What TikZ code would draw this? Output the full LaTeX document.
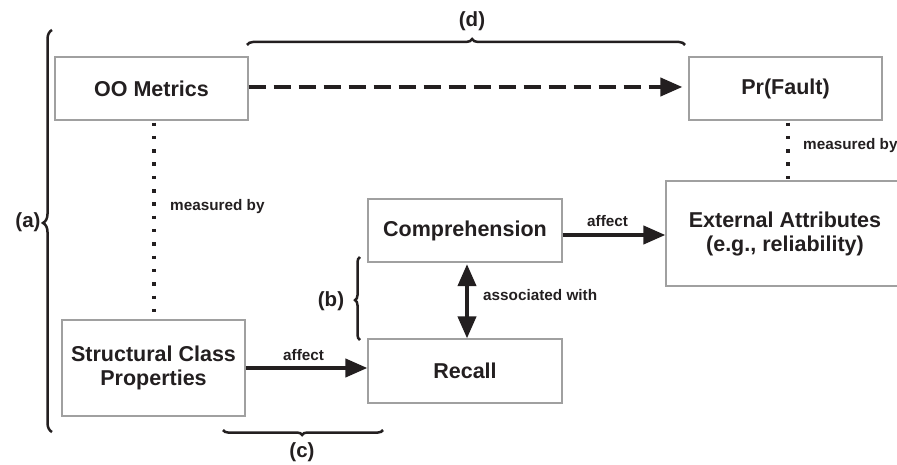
\documentclass[tikz,border=0pt]{standalone}
\usepackage{fontspec}
\setmainfont{Liberation Sans}
\usetikzlibrary{arrows.meta,decorations.pathreplacing,calc}
\definecolor{ink}{HTML}{231F20}
\definecolor{edge}{HTML}{A0A0A0}
\begin{document}
\begin{tikzpicture}[x=1pt,y=-1pt,
  box/.style={draw=edge, line width=1.2pt, fill=white, align=center, inner sep=0pt,
    font=\fontsize{21.5}{24}\selectfont\bfseries, text=ink},
  lab/.style={font=\fontsize{15.3}{18}\selectfont\bfseries, text=ink, inner sep=0pt},
  tag/.style={font=\fontsize{20.5}{24}\selectfont\bfseries, text=ink, inner sep=0pt},
  conn/.style={draw=ink, line width=4pt, -{Triangle[length=22pt,width=18pt]}},
  dconn/.style={draw=ink, line width=4pt, {Triangle[length=22pt,width=18pt]}-{Triangle[length=22pt,width=18pt]}},
  dots/.style={draw=ink, line width=3.5pt, dash pattern=on 3.5pt off 9.8pt},
  bracket/.style={draw=ink, line width=2.5pt, decorate}
]
\useasboundingbox (0,0) rectangle (897,465);

% boxes
\node[box, minimum width=193pt, minimum height=63pt] (oo) at (151.5,88.5) {OO Metrics};
\node[box, minimum width=193pt, minimum height=63pt] (pr) at (785.5,88.5) {Pr(Fault)};
\node[box, minimum width=183pt, minimum height=96pt] (sc) at (153.5,368) {Structural Class\\Properties};
\node[box, minimum width=194pt, minimum height=63pt] (co) at (465,230.5) {Comprehension};
\node[box, minimum width=194pt, minimum height=64pt] (re) at (465,371) {Recall};
\node[box, minimum width=238pt, minimum height=105pt] (ex) at (785,233.5) {External Attributes\\(e.g., reliability)};

% connectors
\draw[conn, dash pattern=on 17pt off 8pt, shorten >=6pt] ($(oo.east)+(0,-1.5)$) -- ($(pr.west)+(0,-1.5)$);
\draw[dots] ($(oo.south)+(2.5,2)$) -- ($(sc.north)+(0.5,0)$);
\draw[dots] ($(pr.south)+(2.5,2)$) -- ($(ex.north)+(3,0)$);
\draw[conn] ($(co.east)+(0,4.5)$) -- ($(ex.west)+(0,1.5)$);
\draw[conn] (sc.east) -- (sc.east -| re.west);
\draw[dconn] ($(co.south)+(2,1.5)$) -- ($(re.north)+(2,0)$);

% connector labels
\node[lab, anchor=base west] (l1) at (170,211) {measured by};
\node[lab, anchor=base west] (l2) at (803,150) {measured by};
\node[lab, anchor=base west] (l3) at (587,226) {affect};
\node[lab, anchor=base west] (l4) at (283,360) {affect};
\node[lab, anchor=base west] (l5) at (483,300) {associated with};

% braces
\draw[bracket, decoration={brace, amplitude=9pt, aspect=0.52}] (52,432) -- (52,30);
\draw[bracket, decoration={brace, amplitude=6pt, aspect=0.514}] (247,45) -- (685,45);
\draw[bracket, decoration={brace, amplitude=5pt, aspect=0.48}] (360,340) -- (360,257);
\draw[bracket, decoration={brace, amplitude=5pt, aspect=0.506}] (383,430) -- (223,430);

\node[tag] (ta) at (28,222) {(a)};
\node[tag] (td) at (472,21) {(d)};
\node[tag] (tb) at (331,301) {(b)};
\node[tag] (tc) at (302,452) {(c)};
\end{tikzpicture}
\end{document}
